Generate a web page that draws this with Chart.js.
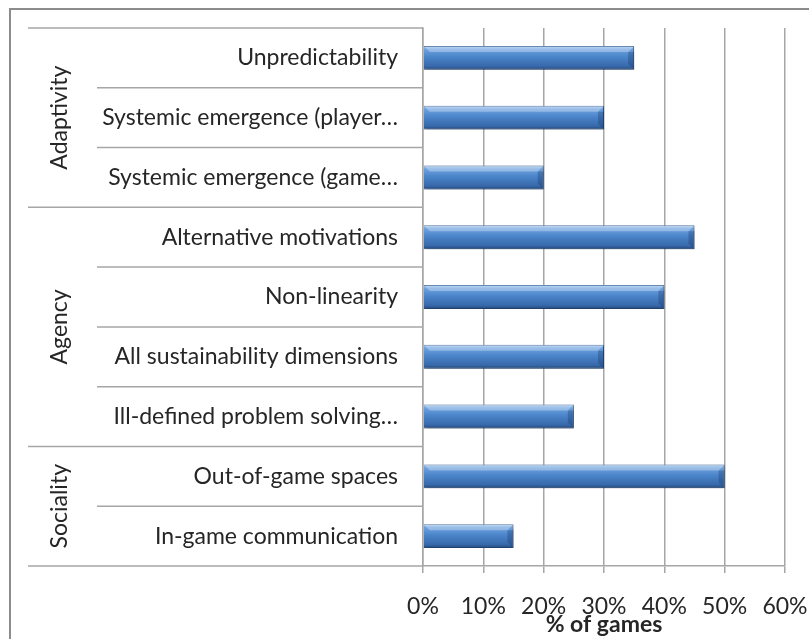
<!DOCTYPE html>
<html>
<head>
<meta charset="utf-8">
<script src="https://cdn.jsdelivr.net/npm/chart.js@4"></script>
<style>
  html, body { margin: 0; padding: 0; background: #fff; }
  #wrap { width: 809px; height: 639px; }
</style>
</head>
<body>
<div id="wrap"><canvas id="chart" width="809" height="639"></canvas></div>
<script>
// categories, top to bottom
const categories = [
  'Unpredictability',
  'Systemic emergence (player\u2026',
  'Systemic emergence (game\u2026',
  'Alternative motivations',
  'Non-linearity',
  'All sustainability dimensions',
  'Ill-defined problem solving\u2026',
  'Out-of-game spaces',
  'In-game communication'
];
const gamesPct = [35, 30, 20, 45, 40, 30, 25, 50, 15];
const groupNames = ['Adaptivity', 'Agency', 'Sociality'];
const groupSizes = [3, 4, 2];
const xTicks = [0, 10, 20, 30, 40, 50, 60];

const FONT = 'Lato, "Open Sans", sans-serif';
const TEXT = '#262626';
const GRID = '#a6a6a6';

// bar fill: vertical gradient per bar, like the bevelled office bars
function barFill(c) {
  const chart = c.chart;
  const ys = chart.scales.y;
  if (!chart.chartArea || !ys) return '#4a85c8';
  const yc = ys.getPixelForValue(c.dataIndex);
  const h = (chart.chartArea.bottom - chart.chartArea.top) / categories.length * 0.4;
  const g = chart.ctx.createLinearGradient(0, yc - h / 2, 0, yc + h / 2);
  g.addColorStop(0, '#a6cbf2');
  g.addColorStop(0.14, '#6ea2de');
  g.addColorStop(0.45, '#4b85ca');
  g.addColorStop(0.85, '#3769ab');
  g.addColorStop(1, '#22467a');
  return g;
}

const decor = {
  id: 'decor',
  beforeDatasetsDraw(chart) {
    const ctx = chart.ctx;
    ctx.save();
    ctx.shadowColor = 'rgba(0,0,0,0.35)';
    ctx.shadowBlur = 4;
    ctx.shadowOffsetX = 1;
    ctx.shadowOffsetY = 2;
  },
  afterDatasetsDraw(chart) {
    const ctx = chart.ctx;
    ctx.restore();
    // bevel at the end of each bar
    ctx.save();
    chart.getDatasetMeta(0).data.forEach(bar => {
      const top = bar.y - bar.height / 2, bot = bar.y + bar.height / 2;
      const b = Math.min(6, bar.height / 3);
      ctx.fillStyle = 'rgba(20,50,100,0.3)';
      ctx.beginPath();
      ctx.moveTo(bar.x, top + b);
      ctx.lineTo(bar.x, bot);
      ctx.lineTo(bar.x - b, bot - b);
      ctx.lineTo(bar.x - b, top + b);
      ctx.closePath();
      ctx.fill();
      ctx.fillStyle = 'rgba(255,255,255,0.3)';
      ctx.beginPath();
      ctx.moveTo(bar.base, top);
      ctx.lineTo(bar.x, top);
      ctx.lineTo(bar.x - b, top + b);
      ctx.lineTo(bar.base + b, top + b);
      ctx.closePath();
      ctx.fill();
    });
    ctx.restore();
  },
  afterDraw(chart) {
    const ctx = chart.ctx;
    const ys = chart.scales.y;
    const area = chart.chartArea;
    ctx.save();
    // outer frame
    ctx.strokeStyle = '#8c8c8c';
    ctx.lineWidth = 2;
    ctx.strokeRect(10, 9, chart.width + 20, chart.height + 20);

    // separators in the label area
    const groupEdges = [0];
    groupSizes.forEach((n, i) => groupEdges.push(groupEdges[i] + n));
    ctx.strokeStyle = GRID;
    ctx.lineWidth = 1.5;
    for (let i = 0; i <= categories.length; i++) {
      const y = ys.getPixelForValue(i - 0.5);
      const x0 = groupEdges.includes(i) ? 28 : 97;
      ctx.beginPath();
      ctx.moveTo(x0, y);
      ctx.lineTo(area.left, y);
      ctx.stroke();
    }

    // group labels, rotated
    ctx.fillStyle = TEXT;
    ctx.font = '23px ' + FONT;
    ctx.textAlign = 'center';
    ctx.textBaseline = 'middle';
    groupNames.forEach((name, i) => {
      const yTop = ys.getPixelForValue(groupEdges[i] - 0.5);
      const yBot = ys.getPixelForValue(groupEdges[i + 1] - 0.5);
      ctx.save();
      ctx.translate(60, (yTop + yBot) / 2);
      ctx.rotate(-Math.PI / 2);
      ctx.fillText(name, 0, 0);
      ctx.restore();
    });
    ctx.restore();
  }
};

new Chart(document.getElementById('chart'), {
  type: 'bar',
  data: {
    labels: categories,
    datasets: [{
      label: '% of games',
      data: gamesPct,
      backgroundColor: barFill,
      borderColor: '#2a5a96',
      borderWidth: 1,
      categoryPercentage: 1,
      barPercentage: 0.4
    }]
  },
  options: {
    indexAxis: 'y',
    responsive: false,
    animation: false,
    layout: { padding: { top: 28, right: 24, left: 0, bottom: 0 } },
    plugins: {
      legend: { display: false },
      tooltip: { enabled: false }
    },
    scales: {
      x: {
        min: xTicks[0],
        max: xTicks[xTicks.length - 1],
        afterBuildTicks: s => { s.ticks = xTicks.map(v => ({ value: v })); },
        afterFit: s => { s.height = 73; s.paddingLeft = 0; s.paddingRight = 0; },
        ticks: {
          callback: v => v + '%',
          color: TEXT,
          font: { family: FONT, size: 23 },
          padding: 20,
          maxRotation: 0
        },
        grid: { color: GRID, lineWidth: 1.5, tickLength: 7 },
        border: { color: GRID, width: 1.5 },
        title: {
          display: true,
          text: '% of games',
          color: TEXT,
          font: { family: FONT, size: 23, weight: 'bold' },
          padding: { top: 0, bottom: 1 }
        }
      },
      y: {
        afterFit: s => { s.width = 423; s.paddingTop = 0; s.paddingBottom = 0; },
        ticks: {
          color: TEXT,
          font: { family: FONT, size: 23 },
          padding: 25
        },
        grid: { display: false, drawTicks: false },
        border: { color: GRID, width: 1.5 }
      }
    }
  },
  plugins: [decor]
});
</script>
</body>
</html>
